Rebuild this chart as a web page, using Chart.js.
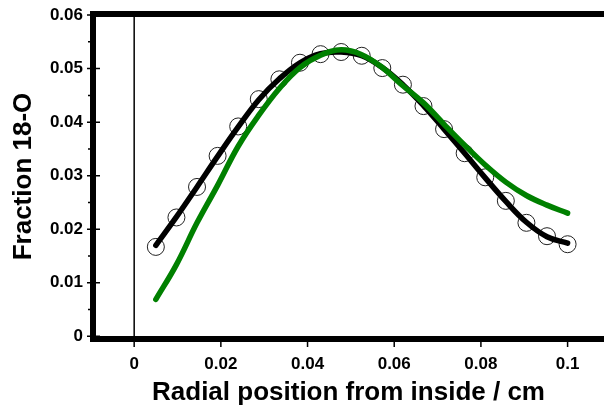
<!DOCTYPE html>
<html>
<head>
<meta charset="utf-8">
<script src="https://cdn.jsdelivr.net/npm/chart.js@4.4.1/dist/chart.umd.min.js"></script>
<style>
  html, body { margin: 0; padding: 0; background: #fff; }
  #wrap { width: 604px; height: 408px; }
</style>
</head>
<body>
<div id="wrap"><canvas id="chart" width="604" height="408"></canvas></div>
<script>
// radial positions (cm)
const positions = [0.005, 0.00975, 0.0145, 0.01925, 0.024, 0.02875, 0.0335, 0.03825, 0.043, 0.04775,
                   0.0525, 0.05725, 0.062, 0.06675, 0.0715, 0.07625, 0.081, 0.08575, 0.0905, 0.09525, 0.1];
// measured fraction 18-O (open circles)
const measured = [0.0167, 0.0222, 0.0279, 0.0337, 0.0392, 0.0443, 0.0480, 0.0511, 0.0527, 0.0531,
                  0.0524, 0.0501, 0.0470, 0.0430, 0.0387, 0.0342, 0.0297, 0.0253, 0.0212, 0.0187, 0.0172];
// fitted profile (black line)
const fitted = [0.0170, 0.0223, 0.0279, 0.0336, 0.0391, 0.0442, 0.0481, 0.0511, 0.0528, 0.0531,
                0.0524, 0.0502, 0.0470, 0.0431, 0.0387, 0.0342, 0.0296, 0.0252, 0.0213, 0.0186, 0.0174];
// second model (green line)
const model = [0.0069, 0.0134, 0.0212, 0.0282, 0.0355, 0.0413, 0.0463, 0.0502, 0.0525, 0.0535,
               0.0526, 0.0502, 0.0468, 0.0436, 0.0396, 0.0357, 0.0320, 0.0288, 0.0263, 0.0245, 0.0230];

const xTicks = [0, 0.02, 0.04, 0.06, 0.08, 0.1];
const yTicks = [0, 0.01, 0.02, 0.03, 0.04, 0.05, 0.06];
const yMinorTicks = [0.005, 0.015, 0.025, 0.035, 0.045, 0.055];

const FONT = "'Liberation Sans', Arial, sans-serif";

function pts(vals) {
    return positions.map((x, i) => ({ x: x, y: vals[i] }));
}

function fmt(v) {
    return v === 0 ? '0' : String(parseFloat(v.toFixed(3)));
}

// frame, zero line and tick marks
const framePlugin = {
    id: 'frame',
    beforeDatasetsDraw(chart) {
        const { ctx, chartArea: a, scales: { x } } = chart;
        const x0 = x.getPixelForValue(0);
        ctx.save();
        ctx.strokeStyle = '#000';
        ctx.lineWidth = 1.5;
        ctx.beginPath();
        ctx.moveTo(x0, a.top);
        ctx.lineTo(x0, a.bottom);
        ctx.stroke();
        ctx.restore();
    },
    afterDatasetsDraw(chart) {
        const { ctx, chartArea: a, scales: { x, y } } = chart;
        ctx.save();
        ctx.strokeStyle = '#000';
        ctx.lineWidth = 6;
        ctx.lineCap = 'square';
        ctx.beginPath();
        ctx.moveTo(a.left, a.bottom);
        ctx.lineTo(a.left, a.top);
        ctx.lineTo(chart.width + 5, a.top);
        ctx.moveTo(a.left, a.bottom);
        ctx.lineTo(chart.width + 5, a.bottom);
        ctx.stroke();

        ctx.lineWidth = 1.5;
        ctx.lineCap = 'butt';
        ctx.beginPath();
        yTicks.forEach(v => {
            const py = y.getPixelForValue(v);
            ctx.moveTo(a.left - 6, py);
            ctx.lineTo(a.left + 7, py);
        });
        yMinorTicks.forEach(v => {
            const py = y.getPixelForValue(v);
            ctx.moveTo(a.left - 5, py);
            ctx.lineTo(a.left, py);
        });
        xTicks.forEach(v => {
            const px = x.getPixelForValue(v);
            ctx.moveTo(px, a.bottom);
            ctx.lineTo(px, a.bottom + 8);
        });
        ctx.stroke();
        ctx.restore();
    }
};

const ctx = document.getElementById('chart');
new Chart(ctx, {
    type: 'scatter',
    data: {
        datasets: [
            {
                label: 'model',
                data: pts(model),
                showLine: true,
                borderColor: 'rgb(0,128,0)',
                borderWidth: 5.5,
                borderCapStyle: 'round',
                borderJoinStyle: 'round',
                pointRadius: 0,
                tension: 0.4,
                order: 1
            },
            {
                label: 'fit',
                data: pts(fitted),
                showLine: true,
                borderColor: '#000',
                borderWidth: 5.5,
                borderCapStyle: 'round',
                borderJoinStyle: 'round',
                pointRadius: 0,
                tension: 0.4,
                order: 2
            },
            {
                label: 'measured',
                data: pts(measured),
                showLine: false,
                pointRadius: 8.5,
                pointBorderWidth: 1,
                pointBorderColor: '#222',
                pointBackgroundColor: 'rgba(0,0,0,0)',
                order: 3
            }
        ]
    },
    options: {
        responsive: false,
        animation: false,
        layout: { autoPadding: false, padding: { top: 14, right: 0, bottom: 0, left: 0 } },
        plugins: {
            legend: { display: false },
            tooltip: { enabled: false }
        },
        scales: {
            x: {
                type: 'linear',
                min: -0.0095,
                max: 0.1084,
                afterFit: s => { s.height = 69; s.paddingLeft = 0; s.paddingRight = 0; },
                afterBuildTicks: s => { s.ticks = xTicks.map(v => ({ value: v })); },
                grid: { display: false, drawTicks: false },
                border: { display: false },
                ticks: {
                    color: '#000',
                    padding: 15,
                    maxRotation: 0,
                    autoSkip: false,
                    font: { family: FONT, size: 17, weight: 'bold' },
                    callback: v => fmt(v)
                },
                title: {
                    display: true,
                    text: 'Radial position from inside / cm',
                    color: '#000',
                    padding: { top: 0, bottom: 0 },
                    font: { family: FONT, size: 26, weight: 'bold' }
                }
            },
            y: {
                type: 'linear',
                min: -0.0005,
                max: 0.0602,
                afterFit: s => { s.width = 93; s.paddingTop = 0; s.paddingBottom = 0; },
                afterBuildTicks: s => { s.ticks = yTicks.map(v => ({ value: v })); },
                grid: { display: false, drawTicks: false },
                border: { display: false },
                ticks: {
                    color: '#000',
                    padding: 10,
                    autoSkip: false,
                    font: { family: FONT, size: 17, weight: 'bold' },
                    callback: v => fmt(v)
                },
                title: {
                    display: true,
                    text: 'Fraction 18-O',
                    color: '#000',
                    padding: { top: 8, bottom: 0 },
                    font: { family: FONT, size: 26, weight: 'bold' }
                }
            }
        }
    },
    plugins: [framePlugin]
});
</script>
</body>
</html>
